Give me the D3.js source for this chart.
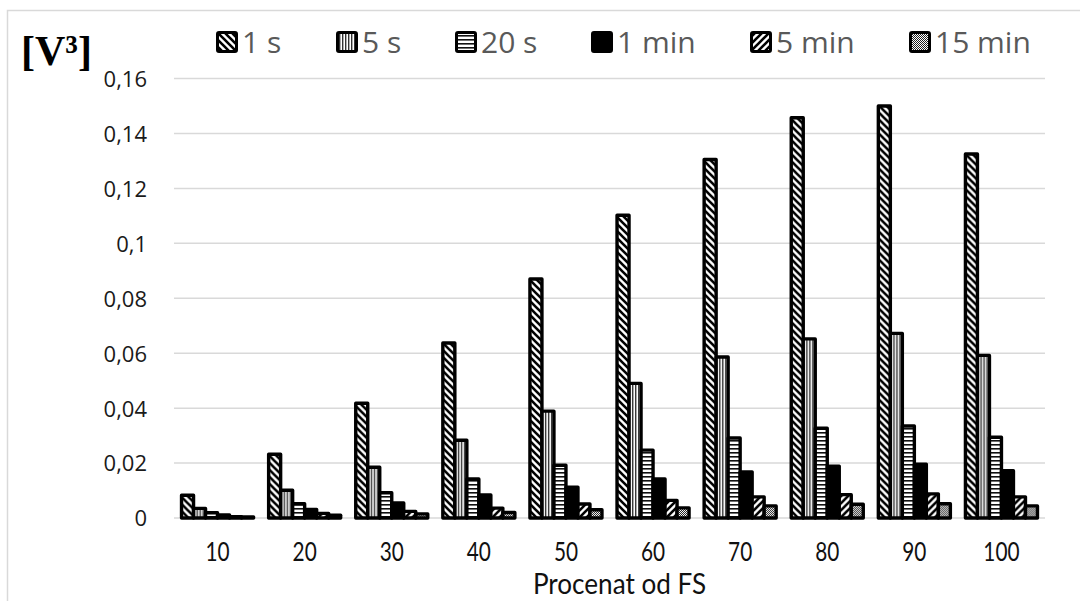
<!DOCTYPE html>
<html>
<head>
<meta charset="utf-8">
<script src="https://cdn.jsdelivr.net/npm/d3@7/dist/d3.min.js"></script>
<style>
  html, body { margin: 0; padding: 0; background: #fff; }
  svg { display: block; }
</style>
</head>
<body>
<svg id="chart" width="1080" height="601"></svg>
<script>
// Categories: percentage of full scale
const categories = ["10", "20", "30", "40", "50", "60", "70", "80", "90", "100"];
const seriesNames = ["1 s", "5 s", "20 s", "1 min", "5 min", "15 min"];

// Values per averaging time [V³]
const values1s   = [0.0083, 0.0232, 0.0418, 0.0637, 0.0870, 0.1102, 0.1305, 0.1457, 0.1500, 0.1325];
const values5s   = [0.0035, 0.0101, 0.0185, 0.0283, 0.0389, 0.0490, 0.0586, 0.0652, 0.0672, 0.0592];
const values20s  = [0.0019, 0.0052, 0.0092, 0.0142, 0.0192, 0.0247, 0.0291, 0.0327, 0.0335, 0.0294];
const values1m   = [0.0011, 0.0031, 0.0055, 0.0084, 0.0112, 0.0142, 0.0168, 0.0189, 0.0196, 0.0172];
const values5m   = [0.0005, 0.0017, 0.0024, 0.0036, 0.0051, 0.0064, 0.0077, 0.0085, 0.0088, 0.0077];
const values15m  = [0.0004, 0.0010, 0.0015, 0.0020, 0.0030, 0.0037, 0.0044, 0.0050, 0.0052, 0.0044];

const yTicks = [0, 0.02, 0.04, 0.06, 0.08, 0.1, 0.12, 0.14, 0.16];
const yTickLabels = ["0", "0,02", "0,04", "0,06", "0,08", "0,1", "0,12", "0,14", "0,16"];

const seriesValues = [values1s, values5s, values20s, values1m, values5m, values15m];
const fills = ["url(#pDown)", "url(#pVert)", "url(#pHoriz)", "#000", "url(#pUp)", "url(#pCheck)"];

const svg = d3.select("#chart");

// Fill patterns
const defs = svg.append("defs");

const P = 7;
const pDown = defs.append("pattern").attr("id", "pDown")
  .attr("patternUnits", "userSpaceOnUse").attr("width", P).attr("height", P);
pDown.append("rect").attr("width", P).attr("height", P).attr("fill", "#fff");
pDown.append("path").attr("d", `M-1,-1 L${P+1},${P+1} M${-P/2-1},${P/2-1} L${P/2+1},${1.5*P+1} M${P/2-1},${-P/2-1} L${1.5*P+1},${P/2+1}`)
  .attr("stroke", "#000").attr("stroke-width", 2.6);

const pUp = defs.append("pattern").attr("id", "pUp")
  .attr("patternUnits", "userSpaceOnUse").attr("width", P).attr("height", P);
pUp.append("rect").attr("width", P).attr("height", P).attr("fill", "#fff");
pUp.append("path").attr("d", `M-1,${P+1} L${P+1},-1 M${-P/2-1},${P/2+1} L${P/2+1},${-P/2-1} M${P/2-1},${1.5*P+1} L${1.5*P+1},${P/2-1}`)
  .attr("stroke", "#000").attr("stroke-width", 2.6);

const pVert = defs.append("pattern").attr("id", "pVert")
  .attr("patternUnits", "userSpaceOnUse").attr("width", 3).attr("height", 3);
pVert.append("rect").attr("width", 3).attr("height", 3).attr("fill", "#fff");
pVert.append("rect").attr("x", 0).attr("width", 1.4).attr("height", 3).attr("fill", "#333");

const pHoriz = defs.append("pattern").attr("id", "pHoriz")
  .attr("patternUnits", "userSpaceOnUse").attr("width", 4).attr("height", 4);
pHoriz.append("rect").attr("width", 4).attr("height", 4).attr("fill", "#fff");
pHoriz.append("rect").attr("y", 0).attr("width", 4).attr("height", 1.6).attr("fill", "#111");

const pCheck = defs.append("pattern").attr("id", "pCheck")
  .attr("patternUnits", "userSpaceOnUse").attr("width", 2).attr("height", 2);
pCheck.append("rect").attr("width", 2).attr("height", 2).attr("fill", "#fff");
pCheck.append("rect").attr("width", 1).attr("height", 1).attr("fill", "#222");
pCheck.append("rect").attr("x", 1).attr("y", 1).attr("width", 1).attr("height", 1).attr("fill", "#222");

// Chart frame
svg.append("rect")
  .attr("x", 7.5).attr("y", 10.5).attr("width", 1100).attr("height", 620)
  .attr("fill", "#fff").attr("stroke", "#d9d9d9").attr("stroke-width", 1.5);

// Plot area
const plot = { left: 174, right: 1045, top: 78.5, bottom: 518 };

const x0 = d3.scaleBand()
  .domain(categories)
  .range([plot.left, plot.right])
  .paddingInner(0.173)
  .paddingOuter(0.0865);

const x1 = d3.scaleBand()
  .domain(d3.range(seriesNames.length))
  .range([0, x0.bandwidth()]);

const y = d3.scaleLinear().domain([0, 0.16]).range([plot.bottom, plot.top]);

// Gridlines
svg.append("g").selectAll("line")
  .data(yTicks)
  .join("line")
  .attr("x1", plot.left).attr("x2", plot.right)
  .attr("y1", d => y(d)).attr("y2", d => y(d))
  .attr("stroke", "#d9d9d9").attr("stroke-width", 1.5);

// Y axis labels
const yAxis = d3.axisLeft(y)
  .tickValues(yTicks)
  .tickFormat((d, i) => yTickLabels[i])
  .tickSize(0)
  .tickPadding(0);
const gy = svg.append("g").attr("transform", `translate(147,0)`).call(yAxis);
gy.select(".domain").remove();
gy.selectAll("text")
  .attr("font-family", "'Open Sans', sans-serif")
  .attr("font-size", 22)
  .attr("fill", "#1a1a1a")
  .attr("dy", "0.36em");

// Bars
const groups = svg.append("g").selectAll("g")
  .data(categories)
  .join("g")
  .attr("transform", d => `translate(${x0(d)},0)`);

groups.selectAll("rect")
  .data((c, ci) => seriesValues.map((vals, si) => ({ si, v: vals[ci] })))
  .join("rect")
  .attr("x", d => x1(d.si))
  .attr("width", x1.bandwidth())
  .attr("y", d => y(d.v))
  .attr("height", d => y(0) - y(d.v))
  .attr("fill", d => fills[d.si])
  .attr("stroke", "#000")
  .attr("stroke-width", 3.4)
  .attr("stroke-linejoin", "round");

// X axis labels
const xAxis = d3.axisBottom(x0).tickSize(0).tickPadding(0);
const gx = svg.append("g").attr("transform", `translate(0,561)`).call(xAxis);
gx.select(".domain").remove();
gx.selectAll(".tick text")
  .attr("y", 0).attr("dy", 0).attr("x", 0)
  .attr("font-family", "Lato, sans-serif")
  .attr("font-size", 26)
  .attr("fill", "#111");
gx.selectAll(".tick").each(function(d) {
  const cx = x0(d) + x0.bandwidth() / 2;
  d3.select(this).attr("transform", `translate(${cx},0) scale(0.8,1)`);
});

// X axis title
svg.append("text")
  .attr("transform", `translate(${(plot.left + plot.right) / 2 + 10},594) scale(0.9,1)`)
  .attr("text-anchor", "middle")
  .attr("font-family", "Lato, sans-serif")
  .attr("font-size", 29)
  .attr("fill", "#111")
  .text("Procenat od FS");

// Y axis unit
svg.append("text")
  .attr("x", 21).attr("y", 65)
  .attr("font-family", "'Liberation Serif', serif")
  .attr("font-weight", "bold")
  .attr("font-size", 42)
  .attr("fill", "#000")
  .text("[V³]");

// Legend
const legendX = [216, 336, 455, 591, 750, 909];
const legend = svg.append("g").selectAll("g")
  .data(seriesNames)
  .join("g")
  .attr("transform", (d, i) => `translate(${legendX[i]},31)`);

legend.append("rect")
  .attr("x", 1.5).attr("y", 1.5)
  .attr("width", 19).attr("height", 19)
  .attr("rx", 1.5)
  .attr("fill", (d, i) => fills[i])
  .attr("stroke", "#000").attr("stroke-width", 3);

legend.append("text")
  .attr("x", 26).attr("y", 22)
  .attr("font-family", "'Open Sans', sans-serif")
  .attr("font-size", 30)
  .attr("fill", "#595959")
  .text(d => d);
</script>
</body>
</html>
